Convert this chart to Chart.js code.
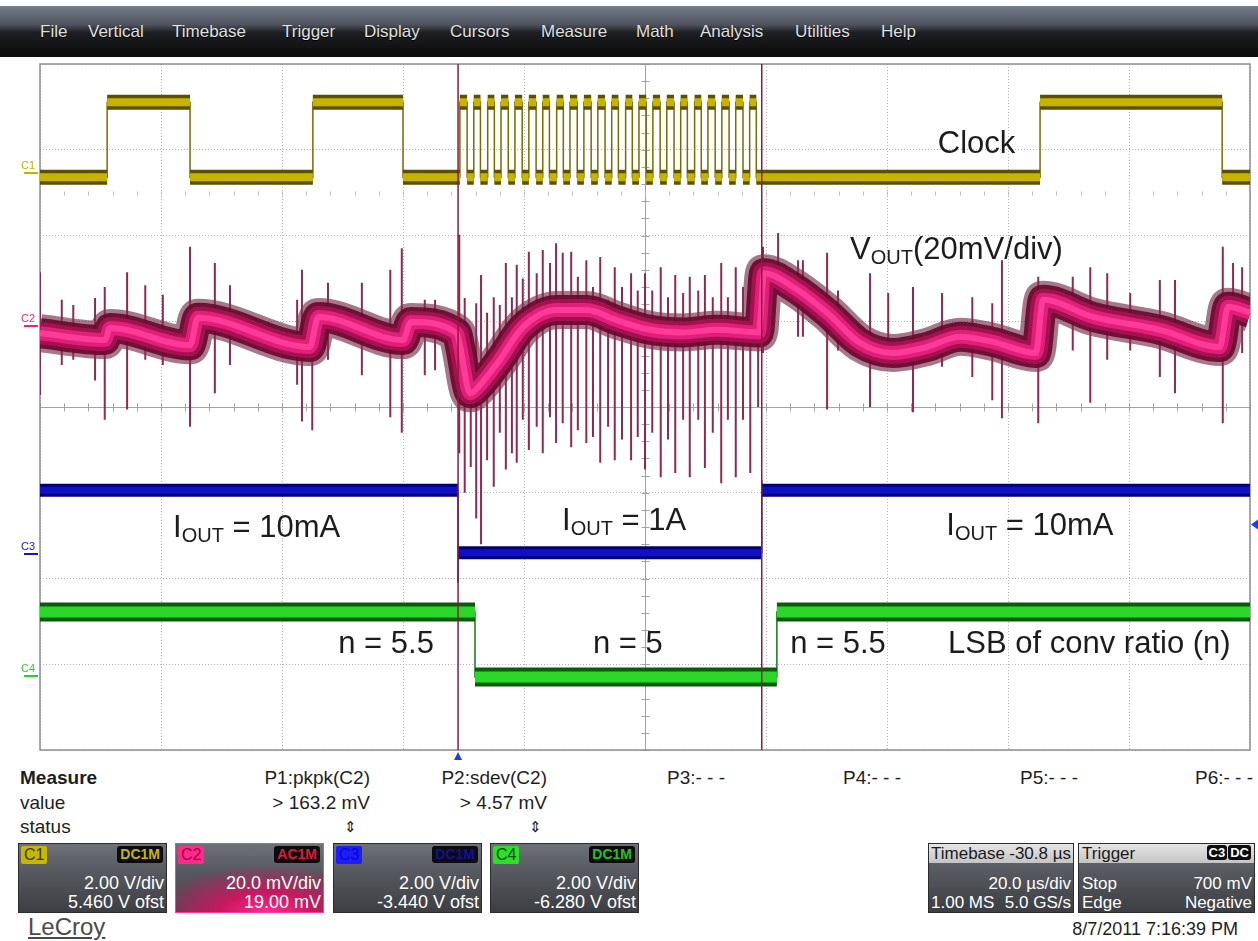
<!DOCTYPE html>
<html>
<head>
<meta charset="utf-8">
<script src="https://cdn.jsdelivr.net/npm/chart.js@4.4.1/dist/chart.umd.min.js"></script>
<style>
  body { margin: 0; background: #fff; font-family: "Liberation Sans", Arial, sans-serif; }
  #page { position: relative; width: 1258px; height: 941px; overflow: hidden; background: #fff; }
  #menubar { position: absolute; left: 0; top: 6px; width: 1258px; height: 51px;
    background: linear-gradient(#767d8b 0%, #4f545e 36%, #1e1f22 52%, #0b0b0b 100%); }
  #menubar span { position: absolute; top: 16px; color: #e0e0e0; font-size: 17px; text-shadow: 0 1px 1px #000; }
  #scope { position: absolute; left: 0; top: 0; }
  .mt { position: absolute; font-size: 19px; line-height: 20px; color: #1e1e1e; white-space: nowrap; }
  .box { position: absolute; top: 843px; height: 70px; box-sizing: border-box; border: 1px solid #2c2c2c;
    background: linear-gradient(#6d7178 0%, #54575d 45%, #3c3e43 100%); color: #fff; font-size: 18px; }
  .box.sm { font-size: 17px; }
  .box .tag { position: absolute; left: 2px; top: 2px; font-size: 16px; line-height: 18px; padding: 0 3px; border-radius: 2px; }
  .box .cpl { position: absolute; right: 3px; top: 2px; font-size: 14px; line-height: 17px; padding: 0 3px;
    border-radius: 3px; background: #0c0c0c; font-weight: bold; }
  .box .l1, .box .l2 { position: absolute; right: 2px; line-height: 19px; white-space: nowrap; }
  .box .l1 { top: 30px; } .box .l2 { top: 49px; }
  .box .hd { position: absolute; left: 0; top: 0; right: 0; height: 19px; background: linear-gradient(#e6e6e6, #c4c4c4);
    color: #1a1a1a; line-height: 19px; }
  .box .lft { position: absolute; left: 3px; line-height: 19px; }
</style>
</head>
<body>
<div id="page">
  <div id="menubar">
    <span style="left:40px">File</span>
    <span style="left:88px">Vertical</span>
    <span style="left:172px">Timebase</span>
    <span style="left:282px">Trigger</span>
    <span style="left:364px">Display</span>
    <span style="left:450px">Cursors</span>
    <span style="left:541px">Measure</span>
    <span style="left:636px">Math</span>
    <span style="left:700px">Analysis</span>
    <span style="left:795px">Utilities</span>
    <span style="left:881px">Help</span>
  </div>
  <canvas id="scope" width="1258" height="760"></canvas>

  <div class="mt" style="left:20px;top:768px;font-weight:bold">Measure</div>
  <div class="mt" style="left:20px;top:793px">value</div>
  <div class="mt" style="left:20px;top:817px">status</div>
  <div class="mt" style="right:888px;top:768px">P1:pkpk(C2)</div>
  <div class="mt" style="right:888px;top:793px">&gt; 163.2 mV</div>
  <div class="mt" style="left:344px;top:817px;font-size:15px">&#8661;</div>
  <div class="mt" style="right:711px;top:768px">P2:sdev(C2)</div>
  <div class="mt" style="right:711px;top:793px">&gt; 4.57 mV</div>
  <div class="mt" style="left:529px;top:817px;font-size:15px">&#8661;</div>
  <div class="mt" style="left:667px;top:768px">P3:- - -</div>
  <div class="mt" style="left:843px;top:768px">P4:- - -</div>
  <div class="mt" style="left:1020px;top:768px">P5:- - -</div>
  <div class="mt" style="left:1195px;top:768px">P6:- - -</div>

  <div id="boxes"></div>

  <div class="box sm" style="left:928px;width:146px">
    <div class="hd"><span style="position:absolute;left:2px">Timebase</span><span style="position:absolute;right:2px">-30.8 µs</span></div>
    <div class="l1">20.0 µs/div</div>
    <div class="lft" style="top:49px;left:2px">1.00 MS</div>
    <div class="l2">5.0 GS/s</div>
  </div>
  <div class="box sm" style="left:1078px;width:177px">
    <div class="hd"><span style="position:absolute;left:3px">Trigger</span>
      <span style="position:absolute;right:3px;top:1px;font-size:13px;line-height:16px;font-weight:bold;color:#fff">
        <span style="background:#0c0c0c;padding:0 2px;border-radius:3px">C3</span><span style="background:#0c0c0c;padding:0 2px;border-radius:3px;margin-left:1px">DC</span></span></div>
    <div class="lft" style="top:30px">Stop</div>
    <div class="l1">700 mV</div>
    <div class="lft" style="top:49px">Edge</div>
    <div class="l2">Negative</div>
  </div>

  <div class="mt" style="left:28px;top:914px;font-size:24px;line-height:26px;color:#4a4a4a;text-decoration:underline">LeCroy</div>
  <div class="mt" style="right:20px;top:919px;font-size:18px">8/7/2011 7:16:39 PM</div>
</div>

<script>
// time base: 10 divisions x 20 us
const timeMax = 200;
const timeStep = 20;

// channel settings (C1..C4)
const chNames = ['C1', 'C2', 'C3', 'C4'];
const chVoltsPerDiv = [2.0, 20.0, 2.0, 2.0];     // C2 in mV
const chOffset = [5.46, 19.0, -3.44, -6.28];     // C2 in mV
const chCoupling = ['DC1M', 'AC1M', 'DC1M', 'DC1M'];
const chLine1 = ['2.00 V/div', '20.0 mV/div', '2.00 V/div', '2.00 V/div'];
const chLine2 = ['5.460 V ofst', '19.00 mV', '-3.440 V ofst', '-6.280 V ofst'];
const chColor = ['#c4b200', '#f0247f', '#1414c8', '#26d426'];

// cursors and trigger
const cursorTimes = [69.1, 119.3];
const triggerTime = 69.1;
const triggerLevelV = 0.7;   // on C3

// C1 clock: high pulses [start, end] in us
const clockLowV = -0.1;
const clockHighV = 1.65;
const clockPulses = [
  [11.1, 24.8], [45.1, 60.0],
  [69.4, 70.6], [71.7, 72.8], [74.0, 75.1], [76.2, 77.4], [78.5, 79.7], [80.8, 82.0],
  [83.1, 84.2], [85.4, 86.5], [87.6, 88.8], [89.9, 91.1], [92.2, 93.4], [94.5, 95.6],
  [96.8, 97.9], [99.0, 100.2], [101.3, 102.5], [103.6, 104.8], [105.9, 107.0], [108.2, 109.3],
  [110.4, 111.6], [112.7, 113.9], [115.0, 116.2], [117.3, 118.4],
  [165.3, 195.4]
];

// C2 VOUT: centre of the trace band (mV)
const vOutTimes = [0, 10.7, 11.6, 24.8, 26.1, 44.6, 46.0, 60.0, 61.3, 68.9, 69.4, 71.1, 72.4, 76.0,
  79.8, 85.5, 90.4, 95.4, 100.8, 106.3, 111.9, 118.8, 119.7, 124.5, 130.1, 135.5, 141.0, 146.6,
  152.1, 157.5, 164.6, 165.8, 174.1, 185.1, 195.0, 196.4, 200];
const vOutMv = [-1.8, -3.4, -0.6, -4.6, 1.8, -5.0, 2.0, -3.4, 0.8, -1.8, -4.6, -15.8, -14.4, -8.0,
  -0.4, 3.6, 3.6, 1.2, -1.0, -1.6, -1.0, -1.6, 12.2, 9.0, 3.0, -4.0, -6.4, -5.0,
  -2.6, -3.8, -6.4, 6.0, 2.0, -1.0, -5.0, 4.4, 3.0];

// C2 VOUT: switching spikes, time (us), top and bottom (mV)
const spikeTimes = [0, 3.6, 5.5, 9.1, 10.7, 14.4, 17.4, 20.3, 24.8, 28.9, 31.4, 42.5, 43.3, 45.0, 47.6, 53.2, 57.9, 59.8, 63.6, 65.3,
  69.3, 70.2, 71.2, 72.1, 72.9, 73.9, 75.0, 76.0, 77.0, 78.0, 78.8, 79.8, 80.8, 82.1, 83.1, 84.3, 85.3, 86.4, 87.8, 88.9,
  90.3, 91.4, 92.6, 93.9, 95.0, 96.2, 97.7, 98.8, 100.0, 101.2, 102.6, 103.8, 105.0, 106.3, 107.4, 108.8, 109.9, 111.2,
  112.6, 113.7, 115.0, 116.2, 117.4, 118.7,
  119.5, 122.0, 125.3, 126.1, 130.1, 131.9, 137.2, 140.2, 144.3, 149.1, 154.1, 157.4, 159.0, 165.0, 170.7, 173.6,
  176.4, 180.2, 185.1, 187.6, 195.5, 197.2, 198.7];
const spikeHighMv = [12.4, 6.0, 4.8, 6.4, 9.0, 12.4, 9.4, 7.2, 18.4, 14.6, 9.4, 6.0, 13.0, 3.6, 10.0, 10.0, 13.0, 18.0, 6.0, 6.0,
  21.2, 6.4, -1.8, 5.2, 11.8, 3.0, 6.6, 4.8, 14.6, 6.6, 14.2, 11.0, 17.2, 12.2, 17.6, 14.6, 19.2, 17.0, 17.2, 11.4,
  15.2, 9.0, 16.0, 6.0, 13.6, 9.0, 12.2, 8.2, 12.2, 8.2, 13.6, 6.6, 11.8, 7.6, 11.4, 8.2, 11.8, 6.6,
  14.6, 6.6, 13.6, 9.0, 13.0, 6.6,
  18.4, 21.6, 15.2, 15.2, 17.0, 8.2, 12.2, 7.6, 9.0, 7.6, 6.6, 5.2, 15.2, 11.4, 11.4, 13.6,
  12.2, 7.6, 10.6, 10.6, 18.4, 14.6, 13.6];
const spikeLowMv = [-16.2, -9.2, -8.0, -12.8, -22.0, -19.6, -8.0, -9.2, -23.6, -15.8, -9.2, -13.8, -22.4, -24.4, -8.0, -11.6, -21.4, -25.0, -11.6, -10.4,
  -29.8, -39.0, -33.0, -45.0, -51.0, -31.4, -37.6, -25.0, -33.6, -29.8, -32.0, -22.0, -29.0, -23.6, -29.8, -21.4, -27.4, -22.8, -28.4, -24.4,
  -27.4, -26.0, -32.0, -23.6, -31.4, -26.6, -31.4, -26.0, -33.6, -25.0, -35.4, -26.6, -34.4, -22.0, -35.4, -22.0, -33.2, -25.0,
  -36.8, -22.0, -35.4, -22.0, -34.4, -19.0,
  -6.4, 7.6, -2.6, -2.6, -19.6, -5.8, -19.0, -5.8, -20.2, -9.6, -12.0, -17.4, -21.6, -22.8, -5.8, -18.0,
  -8.0, -5.8, -12.0, -15.8, -22.8, -5.8, -6.4];

// C3 IOUT sense: level changes (us), levels (V), edge overshoot (V)
const iOutEdges = [69.1, 119.3];
const iOutLevelsV = [1.50, 0.04, 1.50];
const iOutOvershootV = [-0.66, 1.74];

// C4 LSB of conversion ratio: level changes (us), levels (V)
const lsbEdges = [71.9, 121.8];
const lsbLevelsV = [1.50, -0.02, 1.50];

// ---------- helpers ----------
function stepPath(edges, levels, overshoot) {
  const pts = [{x: 0, y: levels[0]}];
  edges.forEach((t, i) => {
    pts.push({x: t, y: levels[i]});
    if (overshoot) pts.push({x: t, y: overshoot[i]});
    pts.push({x: t, y: levels[i + 1]});
  });
  pts.push({x: timeMax, y: levels[levels.length - 1]});
  return pts;
}
function bandSegments(edges, levels) {
  const bounds = [0, ...edges, timeMax];
  const pts = [];
  levels.forEach((v, i) => {
    pts.push({x: bounds[i], y: v}, {x: bounds[i + 1], y: v}, {x: bounds[i + 1], y: null});
  });
  return pts;
}
function line(axis, data, color, width, extra) {
  return Object.assign({yAxisID: axis, data, borderColor: color, borderWidth: width,
    pointRadius: 0, fill: false, clip: 0, borderCapStyle: 'butt', borderJoinStyle: 'miter'}, extra || {});
}

const clockEdges = clockPulses.flat();
const clockLevels = [clockLowV];
clockPulses.forEach(() => clockLevels.push(clockHighV, clockLowV));

const vOutPts = vOutTimes.map((t, i) => ({x: t, y: vOutMv[i]}));
const spikePts = [];
spikeTimes.forEach((t, i) => spikePts.push({x: t, y: spikeHighMv[i]}, {x: t, y: spikeLowMv[i]}, {x: t, y: null}));
const cursorPts = [];
cursorTimes.forEach(t => cursorPts.push({x: t, y: -4}, {x: t, y: 4}, {x: t, y: null}));

const smooth = {cubicInterpolationMode: 'monotone', borderJoinStyle: 'round'};
// bottom to top
const layers = [
  line('yC2', vOutPts, 'rgba(92,10,44,0.55)', 38, smooth),
  line('yC2', spikePts, '#8e2a50', 2),
  line('yC2', vOutPts, 'rgba(104,8,44,0.9)', 30, smooth),
  line('yC2', vOutPts, '#a3124f', 22, smooth),
  line('yC2', vOutPts, '#e01f78', 14, smooth),
  line('yC2', vOutPts, '#ff3a98', 6, smooth),
  line('yC3', stepPath(iOutEdges, iOutLevelsV, iOutOvershootV), '#1a1ad0', 1.5),
  line('yC3', bandSegments(iOutEdges, iOutLevelsV), '#000070', 13),
  line('yC3', bandSegments(iOutEdges, iOutLevelsV), '#1010c8', 7),
  line('yC4', stepPath(lsbEdges, lsbLevelsV), '#137a13', 1.5),
  line('yC4', bandSegments(lsbEdges, lsbLevelsV), '#0d5a0d', 19),
  line('yC4', bandSegments(lsbEdges, lsbLevelsV), '#2ad82a', 11),
  line('yC1', stepPath(clockEdges, clockLevels), '#7a6c00', 1.5),
  line('yC1', bandSegments(clockEdges, clockLevels), '#5a5000', 15),
  line('yC1', bandSegments(clockEdges, clockLevels), '#c6b400', 8),
  line('div', cursorPts, '#8c1c3c', 1.5)
];
layers.forEach((d, i) => { d.order = 100 - i; });

// text written on the screen, placed in time (us) / division coordinates
const notes = [
  {t: 148.4, d: 2.96, parts: [['Clock']]},
  {t: 133.9, d: 1.73, parts: [['V'], ['OUT', 1], ['(20mV/div)']]},
  {t: 22.0, d: -1.52, parts: [['I'], ['OUT', 1], [' = 10mA']]},
  {t: 86.3, d: -1.43, parts: [['I'], ['OUT', 1], [' = 1A']]},
  {t: 149.8, d: -1.49, parts: [['I'], ['OUT', 1], [' = 10mA']]},
  {t: 49.3, d: -2.87, parts: [['n = 5.5']]},
  {t: 91.4, d: -2.87, parts: [['n = 5']]},
  {t: 124.0, d: -2.87, parts: [['n = 5.5']]},
  {t: 150.1, d: -2.87, parts: [['LSB of conv ratio (n)']]}
];

const FONT = '"Liberation Sans", Arial, sans-serif';
const scopeDecor = {
  id: 'scopeDecor',
  beforeDatasetsDraw(chart) {
    const {ctx, chartArea: a, scales} = chart;
    const xs = scales.x, yd = scales.div;
    ctx.save();
    const cx = Math.round(xs.getPixelForValue(timeMax / 2)) + 0.5;
    const cy = Math.round(yd.getPixelForValue(0)) + 0.5;
    ctx.strokeStyle = '#a2a2a2';
    ctx.lineWidth = 1;
    ctx.beginPath();
    ctx.moveTo(a.left, cy); ctx.lineTo(a.right, cy);
    ctx.moveTo(cx, a.top); ctx.lineTo(cx, a.bottom);
    for (let i = 0; i <= 50; i++) {
      const px = Math.round(xs.getPixelForValue(i * timeStep / 5)) + 0.5;
      ctx.moveTo(px, cy - 4); ctx.lineTo(px, cy + 4);
    }
    for (let i = 0; i <= 40; i++) {
      const py = Math.round(yd.getPixelForValue(-4 + i / 5)) + 0.5;
      ctx.moveTo(cx - 4, py); ctx.lineTo(cx + 4, py);
    }
    ctx.stroke();
    const ry = Math.round(yd.getPixelForValue(2.5)) + 0.5;
    ctx.strokeStyle = '#bdbdbd';
    ctx.beginPath();
    for (let i = 0; i <= 50; i++) {
      const px = Math.round(xs.getPixelForValue(i * timeStep / 5)) + 0.5;
      ctx.moveTo(px, ry - 2); ctx.lineTo(px, ry + 2);
    }
    ctx.stroke();
    ctx.strokeStyle = '#8e8e8e';
    ctx.lineWidth = 1.5;
    ctx.strokeRect(a.left, a.top, a.width, a.height);
    ctx.restore();
  },
  afterDatasetsDraw(chart) {
    const {ctx, chartArea: a, scales} = chart;
    const xs = scales.x, yd = scales.div;
    ctx.save();
    // trigger position and level markers
    ctx.fillStyle = '#1c3cf0';
    const tx = xs.getPixelForValue(triggerTime);
    ctx.beginPath();
    ctx.moveTo(tx, a.bottom + 2); ctx.lineTo(tx - 5, a.bottom + 12); ctx.lineTo(tx + 5, a.bottom + 12);
    ctx.fill();
    const ty = scales.yC3.getPixelForValue(triggerLevelV);
    ctx.beginPath();
    ctx.moveTo(a.right + 1, ty); ctx.lineTo(a.right + 8, ty - 5); ctx.lineTo(a.right + 8, ty + 5);
    ctx.fill();
    // channel ground markers
    ctx.font = '11px ' + FONT;
    ctx.textBaseline = 'alphabetic';
    ['yC1', 'yC2', 'yC3', 'yC4'].forEach((id, i) => {
      const gy = Math.round(scales[id].getPixelForValue(0));
      ctx.fillStyle = chColor[i];
      ctx.fillRect(24, gy - 1, 14, 2);
      ctx.fillText(chNames[i], 21, gy - 4);
    });
    // annotations
    ctx.fillStyle = '#1c1c1c';
    notes.forEach(n => {
      let x = xs.getPixelForValue(n.t);
      const y = yd.getPixelForValue(n.d);
      n.parts.forEach(([txt, sub]) => {
        ctx.font = (sub ? '20px ' : '31px ') + FONT;
        ctx.fillText(txt, x, sub ? y + 5 : y);
        x += ctx.measureText(txt).width;
      });
    });
    ctx.restore();
  }
};

const gridStyle = {color: '#b2b2b2', lineWidth: 1, drawTicks: false};
const borderStyle = {display: false, dash: [1, 2]};
function chAxis(i) {
  return {type: 'linear', display: false,
    min: -4 * chVoltsPerDiv[i] - chOffset[i], max: 4 * chVoltsPerDiv[i] - chOffset[i]};
}

new Chart(document.getElementById('scope'), {
  type: 'line',
  data: {datasets: layers},
  options: {
    responsive: false,
    animation: false,
    events: [],
    layout: {padding: {top: 64, left: 40, right: 8, bottom: 10}},
    plugins: {legend: {display: false}, tooltip: {enabled: false}},
    scales: {
      x: {type: 'linear', min: 0, max: timeMax, ticks: {display: false, stepSize: timeStep}, grid: gridStyle, border: borderStyle},
      div: {type: 'linear', position: 'left', min: -4, max: 4, ticks: {display: false, stepSize: 1}, grid: gridStyle, border: borderStyle},
      yC1: chAxis(0), yC2: chAxis(1), yC3: chAxis(2), yC4: chAxis(3)
    }
  },
  plugins: [scopeDecor]
});

// channel boxes
const tagBg = ['#c9b600', '#ff2a8c', '#1c1cff', '#2ae02a'];
const tagFg = ['#3e3800', '#a0003c', '#0a0ac0', '#0a4a0a'];
const cplFg = ['#c9b600', '#e0183c', '#10109a', '#22c422'];
const boxLeft = [18, 175, 333, 490];
const boxes = document.getElementById('boxes');
chNames.forEach((name, i) => {
  const b = document.createElement('div');
  b.className = 'box';
  b.style.left = boxLeft[i] + 'px';
  b.style.width = '149px';
  if (name === 'C2') {
    b.style.borderColor = '#ff3c96';
    b.style.background = 'radial-gradient(ellipse 80% 70% at 62% 100%, #ff2a8c 0%, #c8185f 40%, rgba(90,60,75,0) 100%), linear-gradient(#6d7178 0%, #54575d 45%, #46484d 100%)';
  }
  b.innerHTML = '<span class="tag" style="background:' + tagBg[i] + ';color:' + tagFg[i] + '">' + name + '</span>' +
    '<span class="cpl" style="color:' + cplFg[i] + '">' + chCoupling[i] + '</span>' +
    '<div class="l1">' + chLine1[i] + '</div><div class="l2">' + chLine2[i] + '</div>';
  boxes.appendChild(b);
});
</script>
</body>
</html>
